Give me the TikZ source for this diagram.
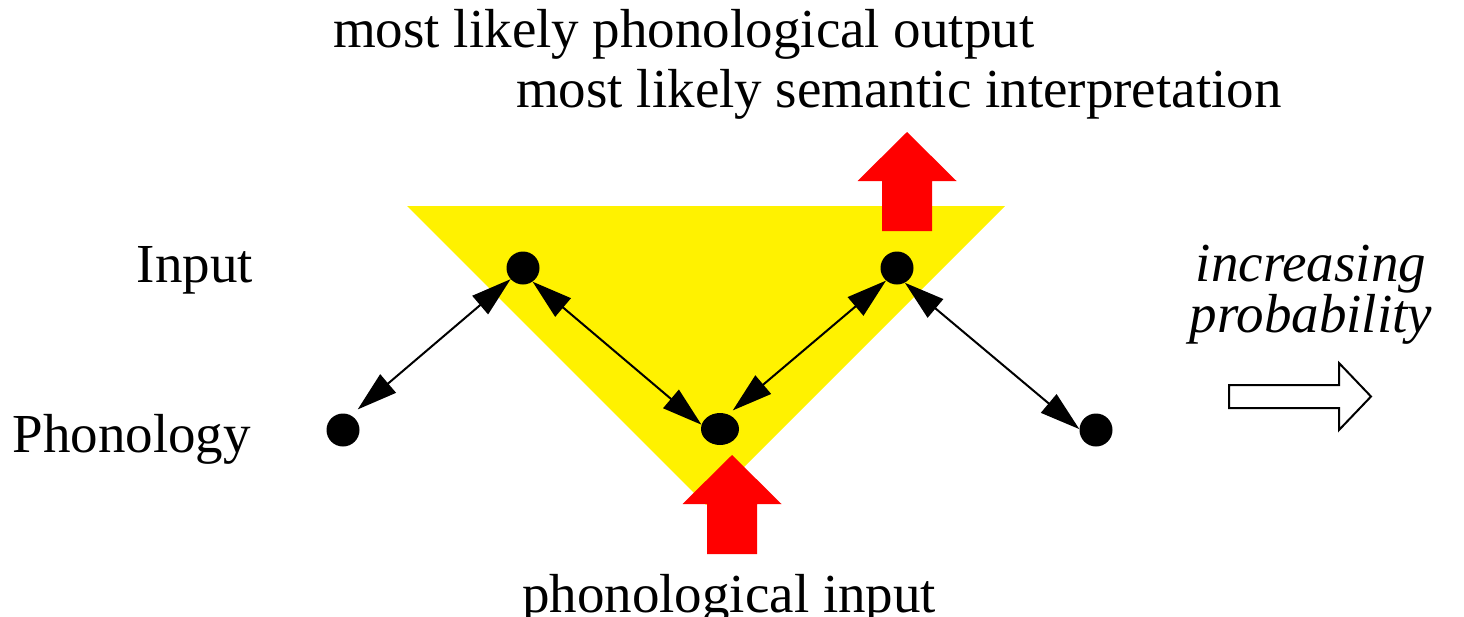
\documentclass[tikz,border=0pt]{standalone}
\usepackage{fontspec}
\setmainfont{Liberation Serif}
\usetikzlibrary{arrows.meta,shapes.geometric}

\begin{document}
\begin{tikzpicture}[x=1pt, y=-1pt, every node/.style={inner sep=0pt},
  lbl/.style={font=\fontsize{55}{60}\selectfont},
  dot/.style={circle, fill, minimum size=33pt},
  link/.style={line width=2pt, {Triangle[length=40pt,width=24pt]}-{Triangle[length=40pt,width=24pt]}},
  fatarrow/.pic={\fill[red] (0,0) -- (49.5,49) -- (25,49) -- (25,99) -- (-25,99) -- (-25,49) -- (-49.5,49) -- cycle;}]
\useasboundingbox (0,0) rectangle (1464,616);
\fill[yellow] (407,206) -- (1005,206) -- (706,505) -- cycle;
\pic at (907,132) {fatarrow};
\pic at (732,455) {fatarrow};
\node[dot] (p1) at (343,430) {};
\node[dot] (i1) at (523,268) {};
\node[dot, ellipse, minimum width=38pt, minimum height=32pt] (m) at (720,429) {};
\node[dot] (i2) at (897,268) {};
\node[dot] (p2) at (1096,430) {};
\draw[link, shorten <=9pt] (p1.62) -- (i1.222);
\draw[link] (i1.305) -- (m.167);
\draw[link, shorten <=6pt] (m.61) -- (i2.229);
\draw[link] (i2.298) -- (p2.177);
\node[lbl, anchor=base east] (inp) at (253,282) {Input};
\node[lbl, anchor=base east] (pho) at (251,452) {Phonology};
\node[lbl, anchor=base west] (out) at (333,47) {most likely phonological output};
\node[lbl, anchor=base west] (sem) at (516,107) {most likely semantic interpretation};
\node[lbl, anchor=base west] (pin) at (522,612) {phonological input};
\node[font=\fontsize{55}{49}\selectfont\itshape, align=center] (prob) at (1311,295) {increasing\\probability};
\draw[line width=2pt, fill=white] (1229,385) -- (1339,385) -- (1339,363) -- (1371,396.5)
  -- (1339,430) -- (1339,408) -- (1229,408) -- cycle;
\end{tikzpicture}
\end{document}
